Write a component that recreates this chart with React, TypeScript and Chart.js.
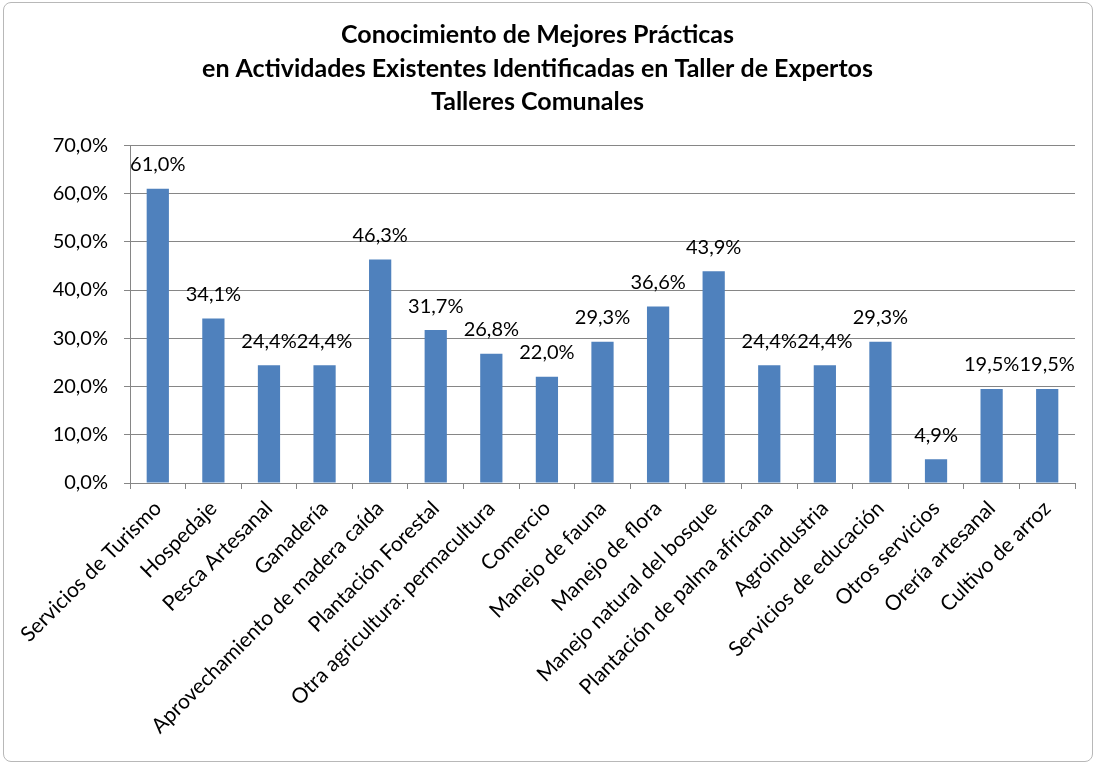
import React, { useEffect, useRef } from "react";
import { Chart, registerables } from "chart.js";

Chart.register(...registerables);

const titleLines = [
  "Conocimiento de Mejores Prácticas",
  "en Actividades Existentes Identificadas en Taller de Expertos",
  "Talleres Comunales",
];

const categories = [
  "Servicios de Turismo",
  "Hospedaje",
  "Pesca Artesanal",
  "Ganadería",
  "Aprovechamiento de madera caída",
  "Plantación Forestal",
  "Otra agricultura: permacultura",
  "Comercio",
  "Manejo de fauna",
  "Manejo de flora",
  "Manejo natural del bosque",
  "Plantación de palma africana",
  "Agroindustria",
  "Servicios de educación",
  "Otros servicios",
  "Orería artesanal",
  "Cultivo de arroz",
];

const values = [61.0, 34.1, 24.4, 24.4, 46.3, 31.7, 26.8, 22.0, 29.3, 36.6, 43.9, 24.4, 24.4, 29.3, 4.9, 19.5, 19.5];

const yMin = 0;
const yMax = 70;
const yStep = 10;

const FONT = "Lato, 'Open Sans', sans-serif";
const fmt = (v: number) => v.toFixed(1).replace(".", ",") + "%";

const dataLabelPlugin = {
  id: "dataLabels",
  afterDatasetsDraw(chart: any) {
    const ctx = chart.ctx;
    const meta = chart.getDatasetMeta(0);
    ctx.save();
    ctx.font = `20px ${FONT}`;
    ctx.fillStyle = "#000";
    ctx.textAlign = "center";
    ctx.textBaseline = "middle";
    meta.data.forEach((bar: any, i: number) => {
      ctx.fillText(fmt(values[i]), bar.x, bar.y - 24);
    });
    ctx.restore();
  },
};

export default function App() {
  const ref = useRef<HTMLCanvasElement>(null);
  useEffect(() => {
    if (!ref.current) return;
    const chart = new Chart(ref.current, {
      type: "bar",
      data: {
        labels: categories,
        datasets: [
          {
            data: values,
            backgroundColor: "#4F81BD",
            borderWidth: 0,
            barPercentage: 0.4,
            categoryPercentage: 1,
          },
        ],
      },
      options: {
        animation: false,
        responsive: false,
        devicePixelRatio: 1,
        layout: { padding: { left: 0, right: 25, top: 0, bottom: 0 } },
        plugins: {
          legend: { display: false },
          tooltip: { enabled: false },
          title: {
            display: true,
            text: titleLines,
            color: "#000",
            font: { family: FONT, size: 25, weight: "bold", lineHeight: 1.35 },
            padding: { top: 18, bottom: 26 },
          },
        },
        scales: {
          x: {
            grid: {
              display: true,
              drawOnChartArea: false,
              drawTicks: true,
              tickLength: 6,
              offset: true,
              color: "#868686",
            },
            border: { display: true, color: "#868686" },
            ticks: {
              color: "#000",
              font: { family: FONT, size: 21 },
              minRotation: 45,
              maxRotation: 45,
              autoSkip: false,
              padding: 7,
            },
            afterFit: (scale: any) => {
              scale.height = 285;
            },
          },
          y: {
            min: yMin,
            max: yMax,
            grid: { color: "#868686", tickLength: 6 },
            border: { display: true, color: "#868686" },
            ticks: {
              stepSize: yStep,
              color: "#000",
              font: { family: FONT, size: 20 },
              padding: 16,
              callback: (v: any) => fmt(Number(v)),
            },
            afterFit: (scale: any) => {
              scale.width = 130;
            },
          },
        },
      },
      plugins: [dataLabelPlugin],
    });
    return () => chart.destroy();
  }, []);

  return (
    <div style={{ position: "fixed", left: 0, top: 0, width: 1100, height: 768, background: "#fff" }}>
      <div
        style={{
          position: "absolute",
          left: 3,
          top: 2,
          width: 1090,
          height: 760,
          border: "1px solid #b8b8b8",
          borderRadius: 8,
          boxSizing: "border-box",
        }}
      />
      <canvas ref={ref} width={1100} height={768} style={{ position: "absolute", left: 0, top: 0 }} />
    </div>
  );
}
